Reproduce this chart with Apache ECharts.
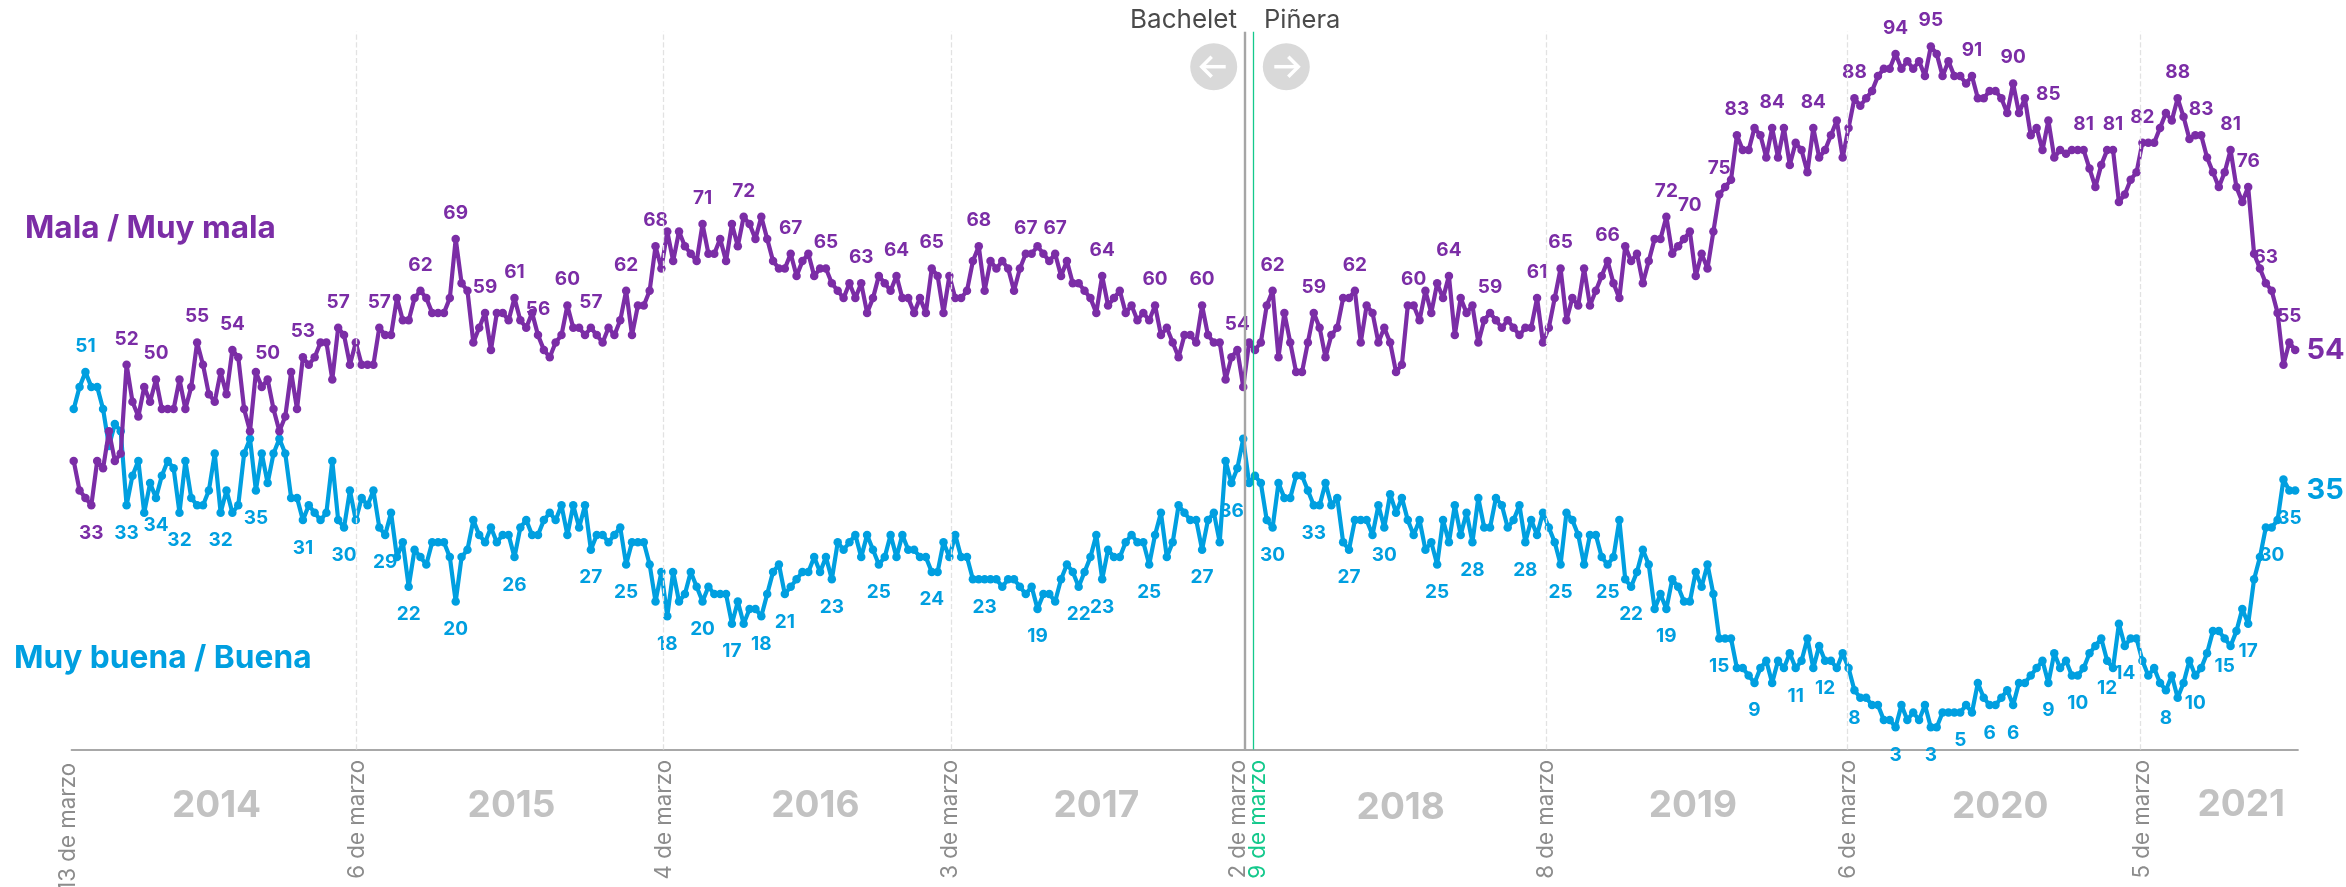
<!DOCTYPE html>
<html>
<head>
<meta charset="utf-8">
<style>
  html, body { margin: 0; padding: 0; background: #fff; }
  #chart { width: 2346px; height: 887px; }
</style>
<script src="https://cdn.jsdelivr.net/npm/echarts@6/dist/echarts.min.js"></script>
</head>
<body>
<div id="chart"></div>
<script>
// weekly poll readings, one row per ten polls
const mala = [
  39,35,34,33,39,38,43,39,40,52,
  47,45,49,47,50,46,46,46,50,46,
  49,55,52,48,47,51,48,54,53,46,
  43,51,49,50,46,43,45,51,46,53,
  52,53,55,55,50,57,56,52,55,52,
  52,52,57,56,56,61,58,58,61,62,
  61,59,59,59,61,69,63,62,55,57,
  59,54,59,59,58,61,58,57,59,56,
  54,53,55,56,60,57,57,56,57,56,
  55,57,56,58,62,56,60,60,62,68,
  65,70,66,70,68,67,66,71,67,67,
  69,66,71,68,72,71,69,72,69,66,
  65,65,67,64,66,67,64,65,65,63,
  62,61,63,61,63,59,61,64,63,62,
  64,61,61,59,61,59,65,64,59,64,
  61,61,62,66,68,62,66,65,66,65,
  62,65,67,67,68,67,66,67,64,66,
  63,63,62,61,59,64,60,61,62,59,
  60,58,59,58,60,56,57,55,53,56,
  56,55,60,56,55,55,50,53,54,49,
  55,54,55,60,62,53,59,55,51,51,
  55,59,57,53,56,57,61,61,62,55,
  60,59,55,57,55,51,52,60,60,58,
  62,59,63,61,64,56,61,59,60,55,
  58,59,58,57,58,57,56,57,57,61,
  55,57,61,65,58,61,60,65,60,62,
  64,66,63,61,68,66,67,63,66,69,
  69,72,67,68,69,70,64,67,65,70,
  75,76,77,83,81,81,84,83,80,84,
  80,84,79,82,81,78,84,80,81,83,
  85,80,84,88,87,88,89,91,92,92,
  94,92,93,92,93,91,95,94,91,93,
  91,91,90,91,88,88,89,89,88,86,
  90,86,88,83,84,81,85,80,81,80.5,
  81,81,81,78.5,76,79,81,81,74,75,
  77,78,82,82,82,84,86,85,88,85.5,
  82.5,83,83,80,78,76,78,81,76,74,
  76,67,65,63,62,59,52,55,54
];
const buena = [
  46,49,51,49,49,46,41,44,43,33,
  37,39,32,36,34,37,39,38,32,39,
  34,33,33,35,40,32,35,32,33,40,
  42,35,40,36,40,42,40,34,34,31,
  33,32,31,32,39,31,30,35,31,34,
  33,35,30,29,32,26,28,22,27,26,
  25,28,28,28,26,20,26,27,31,29,
  28,30,28,29,29,26,30,31,29,29,
  31,32,31,33,29,33,30,33,27,29,
  29,28,29,30,25,28,28,28,25,20,
  24,18,24,20,21,24,22,20,22,21,
  21,21,17,20,17,19,19,18,21,24,
  25,21,22,23,24,24,26,24,26,23,
  28,27,28,29,26,29,27,25,26,29,
  26,29,27,27,26,26,24,24,28,26,
  29,26,26,23,23,23,23,23,22,23,
  23,22,21,22,19,21,21,20,23,25,
  24,22,24,26,29,23,27,26,26,28,
  29,28,28,25,29,32,26,28,33,32,
  31,31,27,31,32,28,39,36,38,42,
  36,37,36,31,30,36,34,34,37,37,
  35,33,33,36,33,34,28,27,31,31,
  31,29,33,30,34.5,32,34,31,29,31,
  27,28,25,31,28,33,29,32,28,34,
  30,30,34,33,30,31,33,28,31,29,
  32,30,28,25,32,31,29,25,29,29,
  26,25,26,31,23,22,24,27,25,19,
  21,19,23,22,20,20,24,22,25,21,
  15,15,15,11,11,10,9,11,12,9,
  12,11,13,11,12,15,11,14,12,12,
  11,13,11,8,7,7,6,6,4,4,
  3,6,4,5,4,6,3,3,5,5,
  5,5,6,5,9,7,6,6,7,8,
  6,9,9,10,11,12,9,13,11,12,
  10,10,11,13,14,15,12,11,17,14,
  15,15,12,10,11,9,8,10,7,9,
  12,10,11,13,16,16,15,14,16,19,
  17,23,26,30,30,31,36.5,35,35
];

// which polls carry a number
const malaUp = [9,14,21,27,33,39,45,52,59,65,70,75,79,84,88,94,99,107,114,122,128,134,140,146,154,
  162,167,175,184,192,198,204,211,218,228,234,241,249,253,261,271,275,280,283,289,296,303,310,316,
  323,330,336,342,347,352,358,362,367,370,373,377];
const malaDown = [3];
const buenaUp = [2];
const buenaDown = [9,14,18,25,31,39,46,53,57,65,75,88,94,101,107,112,117,121,129,137,146,155,164,171,175,
  183,192,197,204,211,217,223,232,238,247,253,261,265,271,280,286,293,298,303,310,316,321,326,330,336,
  341,346,349,356,361,366,370,374,377];

const dateLabels = ['13 de marzo','6 de marzo','4 de marzo','3 de marzo','2 de marzo','9 de marzo','8 de marzo','6 de marzo','5 de marzo'];
const datePolls = [0, 48, 100.3, 149.4, 199.3, 200.7, 250.6, 301.7, 351.7];
const dashedPolls = [48, 100.3, 149.4, 250.6, 301.7, 351.7];
const yearLabels = ['2014','2015','2016','2017','2018','2019','2020','2021'];
const yearPolls = [24.3, 74.5, 126.2, 174, 225.8, 275.5, 327.8, 368.8];

const PURPLE = '#7b2da6';
const BLUE = '#009fe0';
const GREEN = '#14c98c';
const FONT = 'Inter';

function points(values, color, up, down) {
  const last = values.length - 1;
  return values.map(function (v, i) {
    const item = { value: [i, v] };
    if (i === last) {
      item.label = { show: true, position: 'right', distance: 7, fontSize: 29, fontWeight: 700, color: color };
    } else if (up.indexOf(i) >= 0) {
      item.label = { show: true, position: 'top', distance: 12, fontSize: 19, fontWeight: 700, color: color };
    } else if (down.indexOf(i) >= 0) {
      item.label = { show: true, position: 'bottom', distance: 14, fontSize: 19, fontWeight: 700, color: color };
    }
    return item;
  });
}

function lineSeries(name, values, color, up, down, z) {
  return {
    name: name,
    type: 'line',
    z: z,
    silent: true,
    symbol: 'circle',
    symbolSize: 8.5,
    showAllSymbol: true,
    lineStyle: { color: color, width: 4.2 },
    itemStyle: { color: color },
    label: {
      fontFamily: FONT,
      formatter: function (p) { return Math.round(p.value[1]); }
    },
    data: points(values, color, up, down)
  };
}

const chart = echarts.init(document.getElementById('chart'), null, { renderer: 'canvas' });

chart.setOption({
  animation: false,
  backgroundColor: '#fff',
  grid: { left: 71.35, top: 31.7, width: 2226.8, height: 717.8 },
  xAxis: {
    type: 'value',
    min: -0.4,
    max: 378.5,
    splitLine: { show: false },
    axisTick: { show: false },
    axisLabel: { show: false },
    axisLine: { show: true, lineStyle: { color: '#8c8c8c', width: 1.5 } }
  },
  yAxis: { type: 'value', min: 0, max: 97, show: false },
  series: [
    {
      type: 'line',
      z: 1,
      silent: true,
      data: [],
      markLine: {
        silent: true,
        symbol: 'none',
        label: { show: false },
        animation: false,
        data: dashedPolls.map(function (p) {
          return { xAxis: p, lineStyle: { color: '#e2e2e2', type: 'dashed', width: 1.3 } };
        }).concat([
          { xAxis: datePolls[4], lineStyle: { color: '#a5a5a5', type: 'solid', width: 2.4 } },
          { xAxis: datePolls[5], lineStyle: { color: GREEN, type: 'solid', width: 1.3 } }
        ])
      }
    },
    lineSeries('Muy buena / Buena', buena, BLUE, buenaUp, buenaDown, 3),
    lineSeries('Mala / Muy mala', mala, PURPLE, malaUp, malaDown, 4)
  ]
});

function xPos(poll) {
  return chart.convertToPixel({ xAxisIndex: 0 }, poll);
}

function label(text, x, y, size, weight, color, align) {
  return {
    type: 'text', x: x, y: y, silent: true, z: 10,
    style: { text: text, fontFamily: FONT, fontSize: size, fontWeight: weight, fill: color, align: align || 'center', verticalAlign: 'middle' }
  };
}

// small nudges so the two March labels sit side by side
const dateNudge = [-5, 1, 1, -1, -7, 5, 0, 1, 2];
// the year labels are not quite on one baseline in the original
const yearNudge = [806, 806, 806, 806, 808, 806, 807, 805];

const extras = [
  label('Mala / Muy mala', 25, 229, 31.5, 700, PURPLE, 'left'),
  label('Muy buena / Buena', 14, 658, 31.7, 700, BLUE, 'left'),
  label('Bachelet', 1237, 20, 26, 400, '#4a4a4a', 'right'),
  label('Piñera', 1264, 20, 25.5, 400, '#4a4a4a', 'left')
];

dateLabels.forEach(function (t, i) {
  const el = label(t, xPos(datePolls[i]) + dateNudge[i], i === 0 ? 763 : 760, 22.3, 400, i === 5 ? GREEN : '#8c8c8c', 'right');
  el.rotation = Math.PI / 2;
  extras.push(el);
});

yearLabels.forEach(function (t, i) {
  extras.push(label(t, xPos(yearPolls[i]), yearNudge[i], 37, 700, '#c2c2c2'));
});

// left and right arrow buttons
[[1213.7, -1], [1286.3, 1]].forEach(function (b) {
  const cx = b[0], d = b[1];
  extras.push({ type: 'circle', silent: true, z: 10, shape: { cx: cx, cy: 66.7, r: 23.5 }, style: { fill: '#d9d9d9' } });
  extras.push({
    type: 'polyline', silent: true, z: 11,
    shape: { points: [[cx - 12 * d, 66.7], [cx + 12 * d, 66.7]] },
    style: { stroke: '#fff', lineWidth: 3.5, fill: null }
  });
  extras.push({
    type: 'polyline', silent: true, z: 11,
    shape: { points: [[cx + 2 * d, 56.7], [cx + 12 * d, 66.7], [cx + 2 * d, 76.7]] },
    style: { stroke: '#fff', lineWidth: 3.5, fill: null }
  });
});

chart.setOption({ graphic: extras });
</script>
</body>
</html>
